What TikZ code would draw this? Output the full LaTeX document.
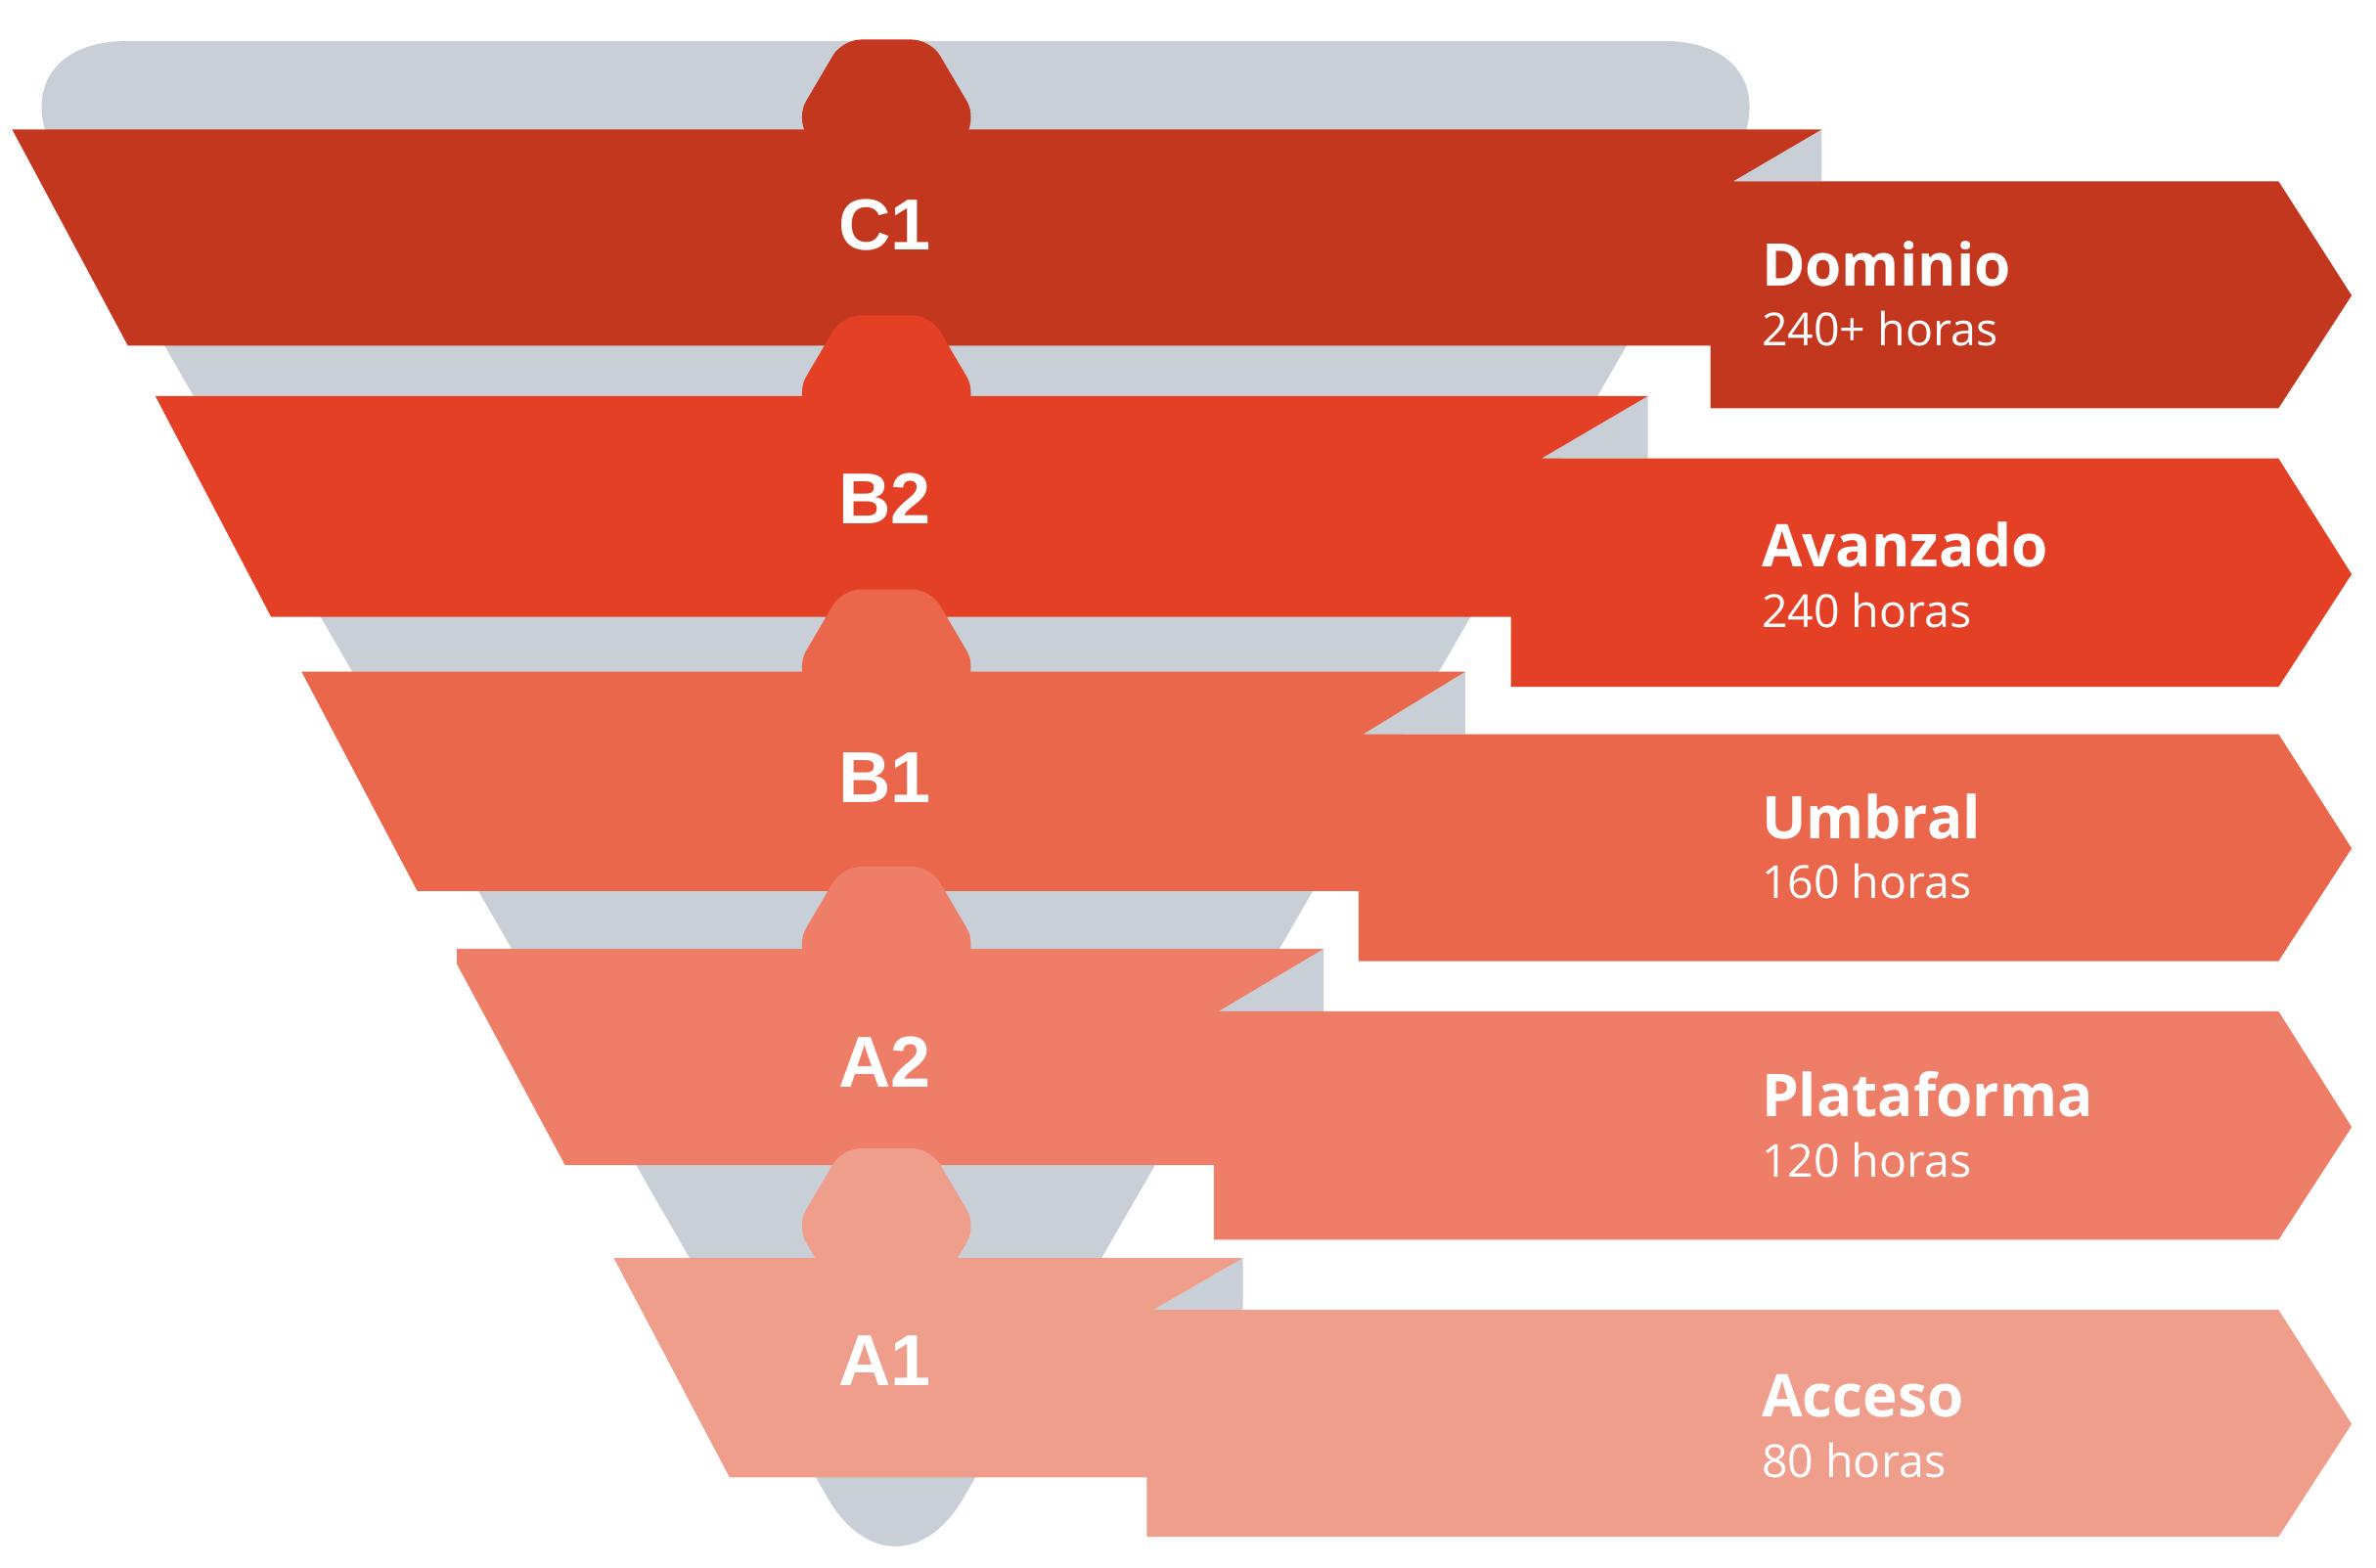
\documentclass[tikz,border=0pt]{standalone}
\usepackage{fontspec}
\setmainfont{Open Sans}
\newfontfamily\codefont{Liberation Sans}

\definecolor{funnelgray}{HTML}{C8CFD7}
\definecolor{lvlCone}{HTML}{C3371F}
\definecolor{lvlBtwo}{HTML}{E44026}
\definecolor{lvlBone}{HTML}{EA674C}
\definecolor{lvlAtwo}{HTML}{EE7E67}
\definecolor{lvlAone}{HTML}{F09E8C}

\begin{document}
\begin{tikzpicture}[x=0.01cm, y=-0.01cm]

\tikzstyle{funnel}=[fill=funnelgray, rounded corners=0.9cm]
\tikzstyle{hex}=[rounded corners=0.12cm]
\tikzstyle{fold}=[fill=funnelgray]
\tikzstyle{code}=[text=white, inner sep=0pt, anchor=base, font=\codefont\bfseries\fontsize{13.5}{16}\selectfont]
\tikzstyle{title}=[text=white, inner sep=0pt, anchor=base west, font=\bfseries\fontsize{11}{13}\selectfont]
\tikzstyle{hours}=[text=white, inner sep=0pt, anchor=base west, font=\fontsize{8.5}{10}\selectfont]

\useasboundingbox (0,0) rectangle (1560,1029.5);

% --- funnel behind ---
\fill[funnel] (588,27) -- (-7,27) -- (588,1061) -- (1183,27) -- cycle;

% --- C1 ---
\fill[hex, lvlCone] (582,26) -- (611,26) -- (641,77) -- (611,128) -- (553,128) -- (523,77) -- (553,26) -- cycle;
\fill[fold] (1138,119) -- (1196,85) -- (1196,119) -- cycle;
\fill[lvlCone] (8,85) -- (1196,85) -- (1138,119) -- (1496,119) -- (1544,194) -- (1496,268) -- (1123,268) -- (1123,227) -- (84,227) -- cycle;
\node[code] (cone) at (581,164) {C1};
\node[title] (dom) at (1156,188) {Dominio};
\node[hours] (domh) at (1156,227) {240+ horas};

% --- B2 ---
\fill[hex, lvlBtwo] (582,207) -- (611,207) -- (641,258) -- (611,309) -- (553,309) -- (523,258) -- (553,207) -- cycle;
\fill[fold] (1012,301) -- (1082,260) -- (1082,301) -- cycle;
\fill[lvlBtwo] (102,260) -- (1082,260) -- (1012,301) -- (1496,301) -- (1544,377) -- (1496,451) -- (992,451) -- (992,405) -- (178,405) -- cycle;
\node[code] (btwo) at (581,344) {B2};
\node[title] (ava) at (1156,372) {Avanzado};
\node[hours] (avah) at (1156,412) {240 horas};

% --- B1 ---
\fill[hex, lvlBone] (582,387) -- (611,387) -- (641,438) -- (611,489) -- (553,489) -- (523,438) -- (553,387) -- cycle;
\fill[fold] (895,482) -- (962,441) -- (962,482) -- cycle;
\fill[lvlBone] (198,441) -- (962,441) -- (895,482) -- (1496,482) -- (1544,557) -- (1496,631) -- (892,631) -- (892,585) -- (274,585) -- cycle;
\node[code] (bone) at (581,527) {B1};
\node[title] (umb) at (1156,551) {Umbral};
\node[hours] (umbh) at (1156,590) {160 horas};

% --- A2 ---
\fill[hex, lvlAtwo] (582,569) -- (611,569) -- (641,620) -- (611,671) -- (553,671) -- (523,620) -- (553,569) -- cycle;
\fill[fold] (800,664) -- (869,623) -- (869,664) -- cycle;
\fill[lvlAtwo] (300,623) -- (869,623) -- (800,664) -- (1496,664) -- (1544,740) -- (1496,814) -- (797,814) -- (797,765) -- (371,765) -- (300,633) -- cycle;
\node[code] (atwo) at (581,714) {A2};
\node[title] (pla) at (1156,733) {Plataforma};
\node[hours] (plah) at (1156,773) {120 horas};

% --- A1 ---
\fill[hex, lvlAone] (582,754) -- (611,754) -- (641,805) -- (611,856) -- (553,856) -- (523,805) -- (553,754) -- cycle;
\fill[fold] (757,860) -- (816,826) -- (816,860) -- cycle;
\fill[lvlAone] (403,826) -- (816,826) -- (757,860) -- (1496,860) -- (1544,935) -- (1496,1009) -- (753,1009) -- (753,970) -- (479,970) -- cycle;
\node[code] (aone) at (581,910) {A1};
\node[title] (acc) at (1156,930) {Acceso};
\node[hours] (acch) at (1156,970) {80 horas};

\end{tikzpicture}
\end{document}
